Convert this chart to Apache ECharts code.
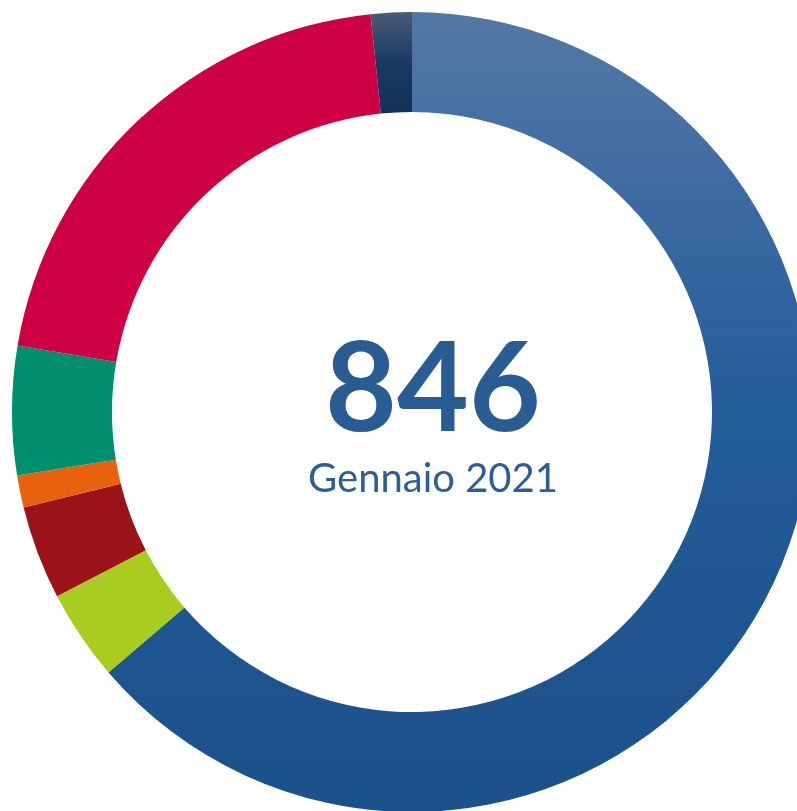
<!DOCTYPE html>
<html>
<head>
<meta charset="utf-8">
<script src="https://cdn.jsdelivr.net/npm/echarts@6/dist/echarts.min.js"></script>
<style>
  html, body { margin: 0; padding: 0; background: #fff; }
  #chart { width: 797px; height: 811px; }
</style>
</head>
<body>
<div id="chart"></div>
<script>
const categories = ["A", "B", "C", "D", "E", "F", "G"];
const values = [539, 31, 32, 11, 44, 175, 14];
const totalLabel = "846";
const periodLabel = "Gennaio 2021";

const grad = (top, mid, bottom) =>
  new echarts.graphic.LinearGradient(0, 0, 0, 1, [
    { offset: 0, color: top },
    { offset: 0.5, color: mid },
    { offset: 1, color: bottom },
  ]);

const sliceColors = [
  grad("#5478A6", "#225C9A", "#1B5189"),
  "#A8CD20",
  "#9A1318",
  "#E8620E",
  "#008F6E",
  "#CC0042",
  grad("#4A5B78", "#1A3A63", "#12305A"),
];

const chart = echarts.init(document.getElementById("chart"));
chart.setOption({
  animation: false,
  series: [
    {
      type: "pie",
      center: [412, 412],
      radius: [300, 400],
      startAngle: 90,
      clockwise: true,
      label: { show: false },
      labelLine: { show: false },
      emphasis: { disabled: true },
      data: categories.map((c, i) => ({
        name: c,
        value: values[i],
        itemStyle: { color: sliceColors[i] },
      })),
    },
  ],
  graphic: [
    {
      type: "text",
      silent: true,
      style: {
        x: 433, y: 391,
        text: totalLabel,
        align: "center",
        verticalAlign: "middle",
        fill: "#2A5C94",
        font: "bold 124px Lato, sans-serif",
      },
    },
    {
      type: "text",
      silent: true,
      style: {
        x: 433, y: 479,
        text: periodLabel,
        align: "center",
        verticalAlign: "middle",
        fill: "#2D5F96",
        font: "40px Lato, sans-serif",
      },
    },
  ],
});
</script>
</body>
</html>
